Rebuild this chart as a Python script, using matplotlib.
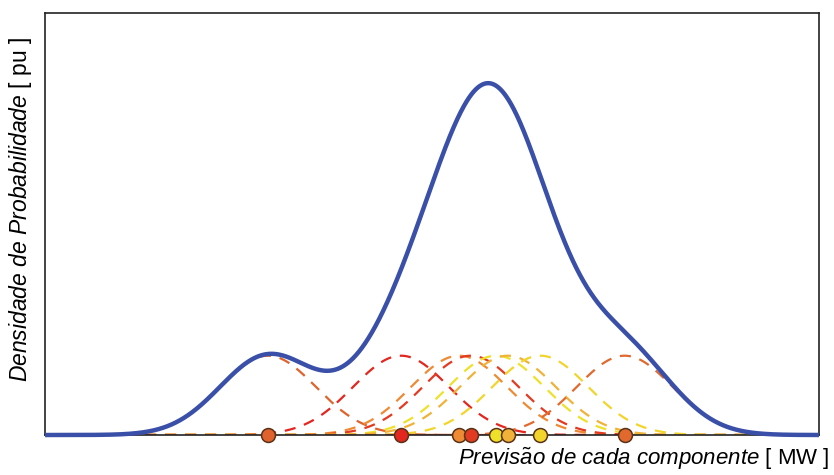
import numpy as np
import matplotlib.pyplot as plt

plt.rcParams['font.family'] = ['Liberation Sans', 'DejaVu Sans']
plt.rcParams['mathtext.fontset'] = 'custom'
plt.rcParams['mathtext.rm'] = 'Liberation Sans'
plt.rcParams['mathtext.it'] = 'Liberation Sans:italic'

# forecast of each ensemble member [MW] and its colour
previsoes = [28.8, 46.0, 53.5, 55.0, 58.3, 59.8, 64.0, 74.9]
cores = ['#e0622c', '#e3261f', '#ef8a34', '#e33a22', '#eee12a', '#f0b238', '#f2d52c', '#e2692e']
largura_banda = 6.2

x = np.linspace(0, 100, 1500)


def gauss(x, mu, sigma):
    return np.exp(-0.5 * ((x - mu) / sigma) ** 2) / (sigma * np.sqrt(2 * np.pi))


n = len(previsoes)
kernels = [gauss(x, mu, largura_banda) / n for mu in previsoes]
densidade = np.sum(kernels, axis=0)

fig = plt.figure(figsize=(8.34, 4.75), dpi=100)
ax = fig.add_axes([0.054, 0.0842, 0.928, 0.8884])

for k, c in zip(kernels, cores):
    ax.plot(x, k, '--', color=c, lw=1.6, dashes=(5, 4), zorder=2)

ax.plot(x, densidade, color='#3a4fa8', lw=3.2, zorder=3, clip_on=False,
        solid_capstyle='butt')

for mu, c in zip(previsoes, cores):
    ax.plot(mu, 0, 'o', ms=10, mfc=c, mec='#5a3216', mew=1.1, zorder=4, clip_on=False)

ax.set_xlim(0, 100)
ax.set_ylim(0, 0.0428)
ax.set_xticks([])
ax.set_yticks([])
for s in ax.spines.values():
    s.set_color('#222222')
    s.set_linewidth(1.2)

fig.text(0.995, 0.006, r'$\mathit{Previs\~ao\ de\ cada\ componente}$ [ MW ]',
         ha='right', va='bottom', fontsize=16)
fig.text(0.024, 0.558, r'$\mathit{Densidade\ de\ Probabilidade}$ [ pu ]',
         ha='center', va='center', rotation=90, fontsize=16.5)

fig.savefig('out.png', dpi=100)
